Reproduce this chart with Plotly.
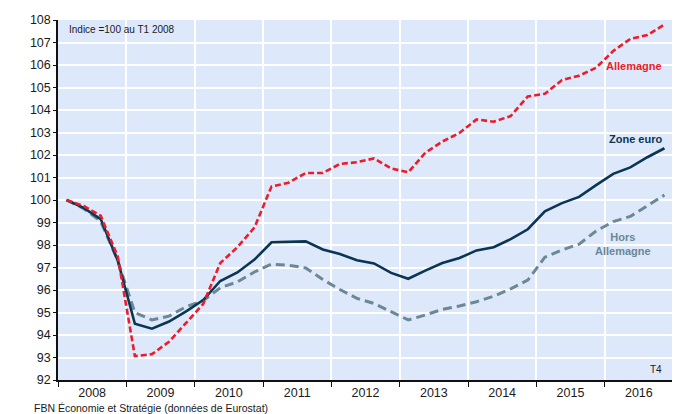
import plotly.graph_objects as go

years = ["2008", "2009", "2010", "2011", "2012", "2013", "2014", "2015", "2016"]
quarters = list(range(36))

zone_euro = [100.0, 99.65, 99.15, 97.3, 94.5, 94.28, 94.6, 95.05, 95.55, 96.4, 96.78, 97.35,
             98.12, 98.13, 98.16, 97.8, 97.6, 97.32, 97.18, 96.76, 96.5, 96.86, 97.2, 97.42,
             97.76, 97.9, 98.26, 98.7, 99.5, 99.86, 100.14, 100.66, 101.16, 101.45, 101.9, 102.3]
allemagne = [100.0, 99.74, 99.3, 97.48, 93.06, 93.15, 93.7, 94.53, 95.38, 97.2, 97.9, 98.78,
             100.6, 100.77, 101.2, 101.2, 101.6, 101.68, 101.85, 101.4, 101.23, 102.1, 102.6, 102.98,
             103.58, 103.48, 103.73, 104.6, 104.72, 105.33, 105.52, 105.88, 106.62, 107.16, 107.33, 107.8]
hors_allemagne = [100.0, 99.62, 99.05, 97.3, 94.99, 94.67, 94.84, 95.26, 95.53, 96.1, 96.36, 96.8,
                  97.15, 97.1, 96.98, 96.47, 96.02, 95.63, 95.4, 95.03, 94.67, 94.89, 95.14, 95.29,
                  95.48, 95.72, 96.05, 96.44, 97.46, 97.78, 98.04, 98.62, 99.04, 99.27, 99.74, 100.22]

RED = "#ec1c2a"
NAVY = "#0b3653"
GREY = "#6c8795"
FONT = "Liberation Sans, Arial, sans-serif"

# page body has an 8px default margin: figure drawn at (8, 8)
OFF = 8
W, H = 680 - OFF, 414 - OFF
ML, MR, MT, MB = 58 - OFF, 7, 20 - OFF, 34
PW, PH = W - ML - MR, H - MT - MB

fig = go.Figure()
fig.add_hline(y=100, line=dict(color="#3c3c3c", width=1.5), layer="below")
fig.add_trace(go.Scatter(x=quarters, y=hors_allemagne, mode="lines",
                         line=dict(color=GREY, width=3, dash="9px,5px"), hoverinfo="skip"))
fig.add_trace(go.Scatter(x=quarters, y=zone_euro, mode="lines",
                         line=dict(color=NAVY, width=2.6), hoverinfo="skip"))
fig.add_trace(go.Scatter(x=quarters, y=allemagne, mode="lines",
                         line=dict(color=RED, width=2.6, dash="6px,3px"), hoverinfo="skip"))

year_centers = [4 * i + 1.5 for i in range(len(years))]

fig.update_layout(
    width=W, height=H,
    margin=dict(l=ML, r=MR, t=MT, b=MB, autoexpand=False),
    paper_bgcolor="white",
    plot_bgcolor="#dde9fb",
    showlegend=False,
    font=dict(family=FONT, size=12.5, color="#1a1a1a"),
    xaxis=dict(
        range=[-0.5, 35.5], automargin=False,
        tickmode="array", tickvals=year_centers, ticktext=years,
        ticks="", showgrid=False, zeroline=False,
        showline=True, linecolor="#111", linewidth=1.5,
        tickfont=dict(size=12.5),
        minor=dict(tickmode="array", tickvals=[4 * i - 0.5 for i in range(10)],
                   ticks="outside", ticklen=5, tickcolor="#111", tickwidth=1,
                   showgrid=True, gridcolor="white", gridwidth=1.5),
    ),
    yaxis=dict(
        range=[92, 108], dtick=1, tick0=92, automargin=False,
        ticks="outside", ticklen=3, tickcolor="#111",
        showgrid=True, gridcolor="white", gridwidth=1.5, zeroline=False,
        showline=True, linecolor="#111", linewidth=1.5,
        tickfont=dict(size=12.5),
    ),
)

fig.add_annotation(x=0, y=107.6, xref="x", yref="y", text="Indice =100 au T1 2008",
                   showarrow=False, xanchor="left", yanchor="middle",
                   font=dict(size=10, color="#1a1a1a"))
fig.add_annotation(x=35, y=92.45, xref="x", yref="y", text="T4",
                   showarrow=False, xanchor="right", yanchor="middle",
                   font=dict(size=10, color="#1a1a1a"))
fig.add_annotation(x=35, y=105.95, xref="x", yref="y", text="<b>Allemagne</b>",
                   showarrow=False, xanchor="right", yanchor="middle",
                   font=dict(size=11, color=RED))
fig.add_annotation(x=35, y=102.7, xref="x", yref="y", text="<b>Zone euro</b>",
                   showarrow=False, xanchor="right", yanchor="middle",
                   font=dict(size=11, color=NAVY))
fig.add_annotation(x=32.6, y=98.05, xref="x", yref="y", text="<b>Hors<br>Allemagne</b>",
                   showarrow=False, xanchor="center", yanchor="middle", align="center",
                   font=dict(size=11, color=GREY))
fig.add_annotation(x=(32 - 58) / PW, y=(414 - 408 - MB) / PH, xref="paper", yref="paper",
                   xanchor="left", yanchor="middle",
                   text="FBN Économie et Stratégie (données de Eurostat)", showarrow=False,
                   font=dict(size=10.5, color="#1a1a1a"))

fig.write_html("out.html")
